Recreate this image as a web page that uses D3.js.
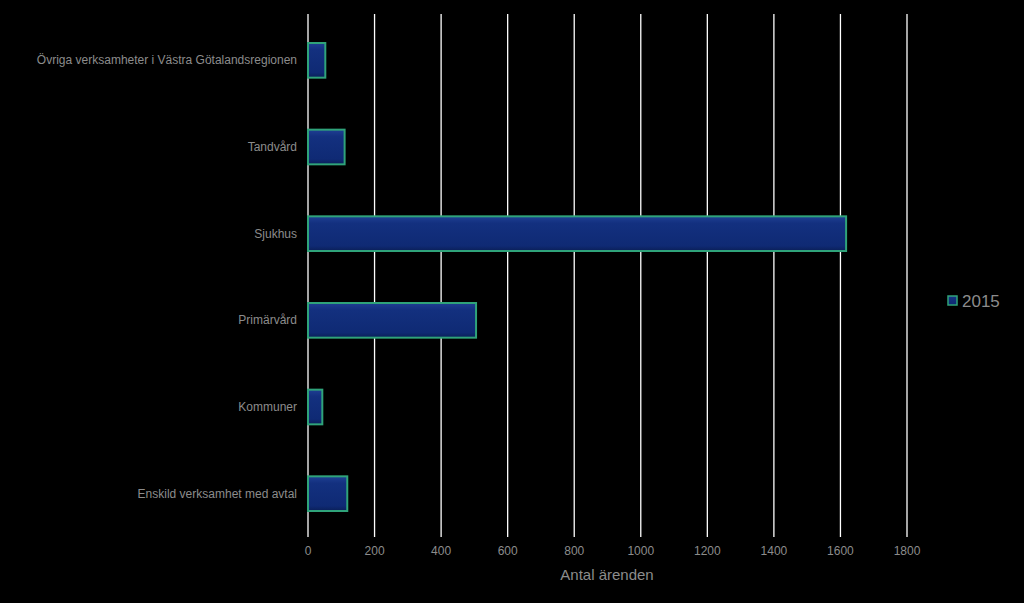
<!DOCTYPE html>
<html><head><meta charset="utf-8">
<script src="https://cdn.jsdelivr.net/npm/d3@7"></script>
<style>body{margin:0;background:#000}</style>
</head><body>
<svg id="chart" width="1024" height="603"></svg>
<script>
var categories = ['Övriga verksamheter i Västra Götalandsregionen', 'Tandvård', 'Sjukhus', 'Primärvård', 'Kommuner', 'Enskild verksamhet med avtal'];
var values2015 = [52, 110, 1617, 505, 43, 118];
var xTicks = [0, 200, 400, 600, 800, 1000, 1200, 1400, 1600, 1800];

(function() {
    var svg = d3.select('#chart'),
        pLeft = 308, pRight = 907, pTop = 17, pBottom = 537;

    var x = d3.scaleLinear().domain([0, 1800]).range([pLeft, pRight]);
    var y = d3.scaleBand().domain(categories).range([pTop, pBottom]).paddingInner(0.6).paddingOuter(0.3);

    var defs = svg.append('defs');
    var g = defs.append('linearGradient').attr('id', 'bar').attr('x1', 0).attr('y1', 0).attr('x2', 0).attr('y2', 1);
    g.append('stop').attr('offset', '0').attr('stop-color', '#1f3f93');
    g.append('stop').attr('offset', '0.2').attr('stop-color', '#13307f');
    g.append('stop').attr('offset', '0.85').attr('stop-color', '#0f2a74');
    g.append('stop').attr('offset', '1').attr('stop-color', '#0a1f58');

    // gridlines
    svg.selectAll('.grid').data(xTicks).enter().append('line')
        .attr('x1', function(d){ return x(d); }).attr('x2', function(d){ return x(d); })
        .attr('y1', pTop - 3).attr('y2', pBottom)
        .attr('stroke', '#fff').attr('stroke-width', 1.3);

    svg.selectAll('.bar').data(categories).enter().append('rect')
        .attr('x', x(0))
        .attr('y', function(d){ return y(d); })
        .attr('width', function(d, i){ return x(values2015[i]) - x(0); })
        .attr('height', y.bandwidth())
        .attr('fill', 'url(#bar)')
        .attr('stroke', '#2fa37a').attr('stroke-width', 2);

    svg.selectAll('.cat').data(categories).enter().append('text')
        .attr('x', pLeft - 11)
        .attr('y', function(d){ return y(d) + y.bandwidth() / 2 + 4; })
        .attr('text-anchor', 'end')
        .attr('fill', '#8c8c8c')
        .style('font', '12px "Liberation Sans", Arial, sans-serif')
        .text(function(d){ return d; });

    svg.selectAll('.tick').data(xTicks).enter().append('text')
        .attr('x', function(d){ return x(d); }).attr('y', 555)
        .attr('text-anchor', 'middle').attr('fill', '#8c8c8c')
        .style('font', '12px "Liberation Sans", Arial, sans-serif')
        .text(function(d){ return d; });

    svg.append('text').attr('x', 607).attr('y', 580).attr('text-anchor', 'middle')
        .attr('fill', '#8c8c8c').style('font', '15px "Liberation Sans", Arial, sans-serif')
        .text('Antal ärenden');

    // legend
    svg.append('rect').attr('x', 948).attr('y', 296).attr('width', 9).attr('height', 9)
        .attr('fill', 'url(#bar)').attr('stroke', '#2fa37a').attr('stroke-width', 1.5);
    svg.append('text').attr('x', 962).attr('y', 307).attr('fill', '#8c8c8c')
        .style('font', '17px "Liberation Sans", Arial, sans-serif').text('2015');
})();
</script>
</body></html>
